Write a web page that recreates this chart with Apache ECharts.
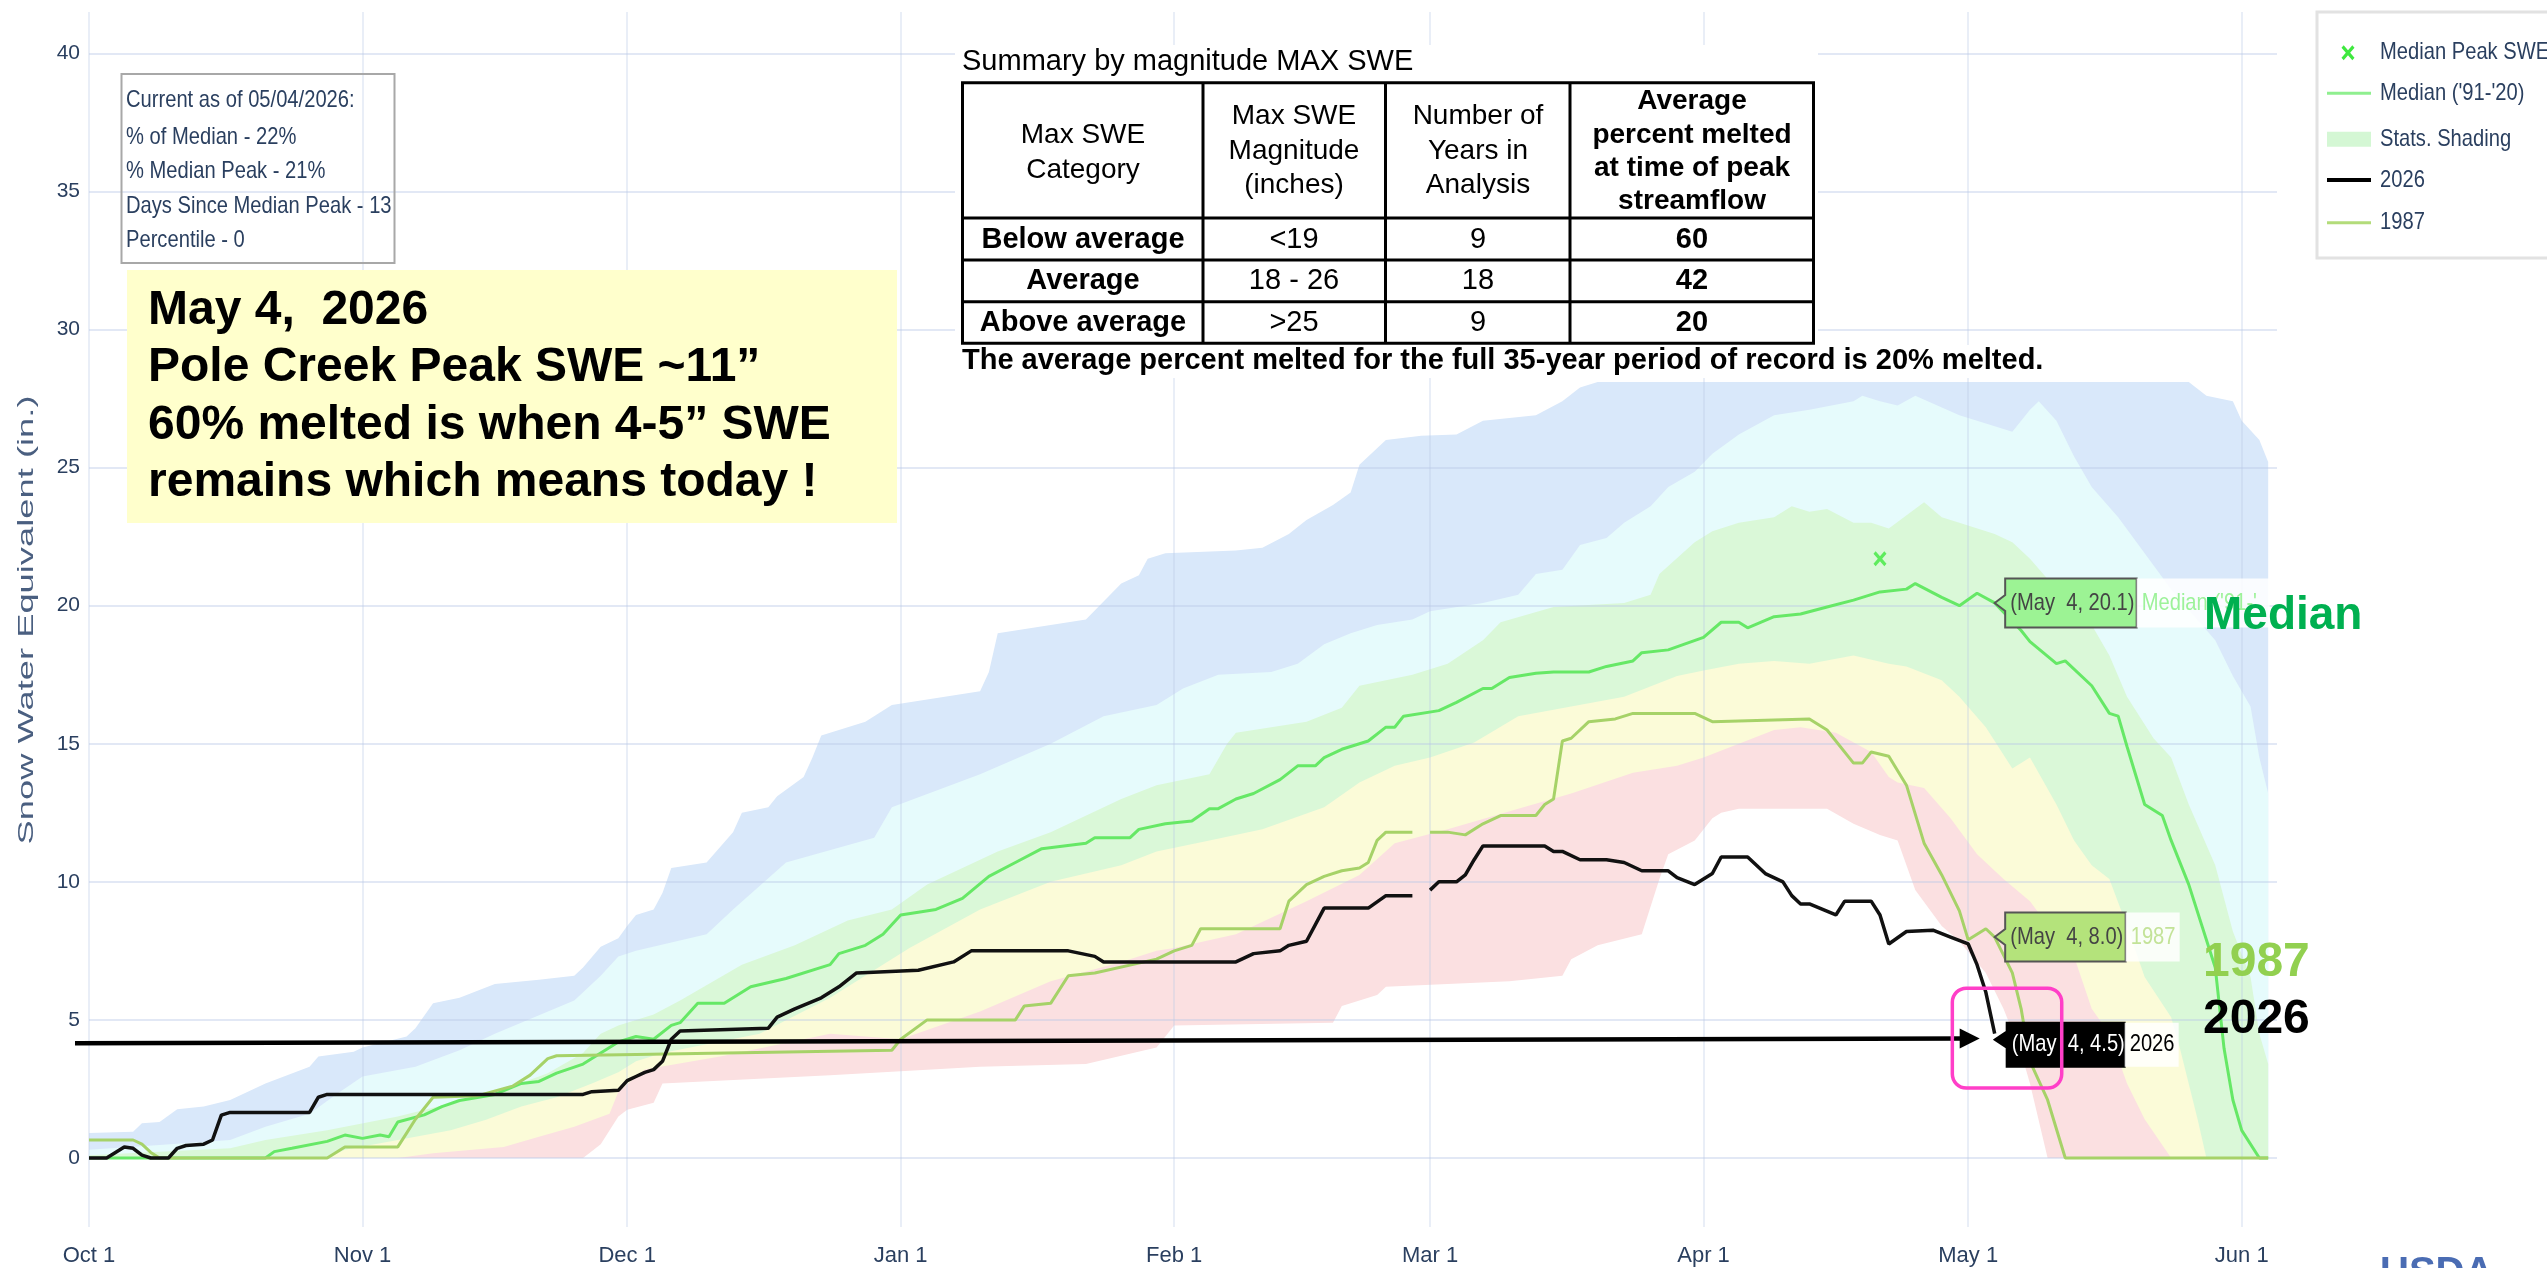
<!DOCTYPE html>
<html><head><meta charset="utf-8">
<script src="https://cdn.jsdelivr.net/npm/echarts@6/dist/echarts.min.js"></script>
<style>html,body{margin:0;padding:0;background:#fff;}#chart{width:2547px;height:1268px;}</style>
</head><body><div id="chart"></div>
<script>
// ---------------- DATA (day 0 = Oct 1, leap-year calendar) ----------------
const monthTickDays = [0, 31, 61, 92, 123, 152, 183, 213, 244];
const monthTickLabels = ['Oct 1', 'Nov 1', 'Dec 1', 'Jan 1', 'Feb 1', 'Mar 1', 'Apr 1', 'May 1', 'Jun 1'];
const yTickValues = [0, 5, 10, 15, 20, 25, 30, 35, 40];

const swe2026 = [[0,0],[2,0],[3,0.2],[4,0.4],[5,0.35],[6,0.1],[7,0],[9,0],[10,0.35],[11,0.45],[13,0.5],[14,0.65],[15,1.55],[16,1.65],[25,1.65],[26,2.2],[27,2.3],[56,2.3],[57,2.4],[60,2.45],[61,2.8],[62,2.95],[63,3.1],[64,3.2],[65,3.5],[66,4.3],[67,4.6],[77,4.7],[78,5.1],[80,5.4],[83,5.8],[85,6.2],[87,6.7],[94,6.8],[98,7.1],[100,7.5],[111,7.5],[114,7.3],[115,7.1],[130,7.1],[132,7.4],[135,7.5],[136,7.7],[138,7.85],[140,9.05],[145,9.05],[147,9.5],[150,9.5],[151,null],[152,9.7],[153,10.0],[155,10.0],[156,10.25],[157,10.8],[158,11.3],[165,11.3],[166,11.1],[167,11.1],[169,10.8],[172,10.8],[174,10.7],[176,10.4],[179,10.4],[180,10.15],[182,9.9],[183,10.1],[184,10.3],[185,10.9],[188,10.9],[190,10.3],[192,10.0],[193,9.5],[194,9.2],[195,9.2],[198,8.8],[199,9.3],[202,9.3],[203,8.8],[204,7.75],[206,8.2],[209,8.25],[211,8.0],[213,7.75],[214,7.0],[215,6.0],[216,4.5]];

const medianSWE = [[0,0],[20,0],[21,0.23],[23,0.35],[27,0.6],[29,0.83],[31,0.71],[33,0.83],[34,0.77],[35,1.3],[38,1.56],[40,1.86],[42,2.08],[46,2.3],[49,2.7],[51,2.77],[53,3.07],[56,3.4],[58,3.8],[60,4.2],[62,4.4],[64,4.3],[66,4.8],[67,4.9],[69,5.6],[72,5.6],[75,6.2],[79,6.5],[84,7.0],[85,7.4],[88,7.7],[90,8.1],[92,8.8],[96,9.0],[99,9.4],[102,10.2],[105,10.7],[108,11.2],[113,11.4],[114,11.6],[118,11.6],[119,11.9],[122,12.1],[125,12.2],[127,12.65],[128,12.65],[130,13.0],[132,13.2],[135,13.7],[137,14.2],[139,14.2],[140,14.5],[142,14.8],[145,15.1],[147,15.6],[148,15.6],[149,16.0],[153,16.2],[155,16.5],[158,17.0],[159,17.0],[161,17.4],[164,17.55],[166,17.6],[170,17.6],[172,17.8],[175,18.0],[176,18.3],[179,18.4],[183,18.85],[185,19.4],[187,19.4],[188,19.2],[191,19.6],[194,19.7],[197,19.95],[200,20.2],[203,20.5],[206,20.6],[207,20.8],[210,20.3],[212,20.0],[214,20.45],[216,20.1],[219,19.1],[220,18.7],[223,17.9],[224,18.0],[227,17.1],[229,16.1],[230,16.0],[231,14.9],[233,12.8],[235,12.4],[236,11.5],[238,9.9],[241,6.9],[242,3.96],[243,2.1],[244,1.0],[246,0],[247,0]];

const swe1987 = [[0,0.65],[5,0.65],[6,0.5],[7,0.2],[8,0],[27,0],[28,0.2],[29,0.4],[35,0.4],[36,0.9],[37,1.4],[38,1.8],[39,2.2],[44,2.25],[48,2.6],[50,3.0],[52,3.6],[53,3.7],[62,3.75],[91,3.9],[92,4.3],[95,5.0],[105,5.0],[106,5.5],[109,5.6],[111,6.6],[114,6.7],[121,7.2],[123,7.5],[125,7.7],[126,8.3],[135,8.3],[136,9.3],[138,9.9],[140,10.2],[142,10.4],[144,10.5],[145,10.7],[146,11.5],[147,11.8],[150,11.8],[151,null],[152,11.8],[154,11.8],[156,11.7],[158,12.1],[160,12.4],[164,12.4],[165,12.8],[166,13.0],[167,15.1],[168,15.2],[170,15.8],[173,15.9],[175,16.1],[182,16.1],[184,15.8],[195,15.9],[197,15.5],[200,14.3],[201,14.3],[202,14.7],[204,14.55],[206,13.5],[208,11.4],[210,10.25],[212,8.95],[213,7.9],[215,8.3],[216,8.0],[218,6.7],[219,5.4],[220,3.5],[222,2.1],[224,0],[247,0]];

const medianPeak = [[203, 21.7]];

const statsMax = [[0,0.9],[5,0.95],[6,1.26],[8,1.3],[10,1.76],[13,1.86],[16,2.1],[20,2.7],[25,3.3],[26,3.67],[30,3.85],[31,4.0],[36,4.4],[37,4.7],[39,5.6],[42,5.8],[46,6.3],[51,6.45],[55,6.6],[56,6.9],[58,7.65],[60,7.96],[61,8.4],[62,8.8],[64,9.0],[65,9.6],[66,10.5],[70,10.7],[73,11.8],[74,12.5],[77,12.7],[78,13.1],[81,13.8],[82,14.5],[83,15.3],[88,15.8],[91,16.4],[101,16.9],[102,17.6],[103,19.0],[113,19.5],[117,20.8],[119,21.1],[120,21.7],[122,21.9],[130,22.0],[133,22.1],[136,22.6],[138,23.1],[141,23.65],[143,24.1],[144,25.1],[147,26.0],[151,26.15],[155,26.2],[158,26.7],[164,26.9],[167,27.4],[169,27.9],[171,28.1],[238,28.1],[240,27.6],[243,27.4],[244,26.7],[246,26.0],[247,25.2]];
const statsP90 = [[0,0.3],[8,0.47],[16,0.65],[20,1.13],[25,1.6],[28,2.3],[31,2.95],[37,3.3],[42,3.9],[46,4.5],[55,5.7],[58,6.6],[60,7.3],[62,7.5],[70,8.1],[73,9.0],[79,10.7],[89,11.6],[91,12.7],[101,13.9],[109,15.0],[115,16.0],[121,16.4],[124,17.0],[128,17.5],[134,17.6],[137,17.9],[140,18.6],[143,19.0],[146,19.3],[150,19.5],[152,19.8],[158,20.1],[162,20.4],[164,21.15],[167,21.3],[169,22.2],[172,22.45],[174,23.0],[177,23.6],[179,24.3],[182,24.85],[184,25.5],[187,26.2],[191,26.9],[195,27.1],[200,27.4],[201,27.6],[203,27.4],[205,27.25],[207,27.6],[212,26.9],[218,26.3],[220,27.1],[221,27.4],[223,26.7],[225,25.4],[227,24.3],[230,23.2],[233,21.9],[236,20.6],[238,19.85],[241,18.75],[243,17.45],[245,16.35],[246,14.5],[247,13.2]];
const statsP70 = [[0,0.1],[16,0.35],[20,0.65],[27,1.0],[35,1.5],[40,1.9],[44,2.16],[48,2.6],[52,3.07],[56,3.8],[58,4.5],[60,4.8],[62,5.0],[64,5.2],[67,5.7],[74,7.0],[80,7.7],[86,8.6],[91,9.0],[95,9.9],[103,11.1],[109,11.8],[117,13.0],[121,13.5],[127,13.9],[129,15.0],[130,15.4],[138,15.8],[142,16.3],[144,17.1],[150,17.5],[154,17.9],[158,18.75],[160,19.4],[166,19.95],[174,20.1],[177,20.4],[178,21.15],[182,22.3],[184,22.7],[187,23.0],[191,23.2],[193,23.6],[195,23.4],[197,23.5],[200,23.0],[202,23.0],[204,22.8],[208,23.75],[210,23.2],[212,23.0],[216,22.6],[218,22.3],[220,21.7],[223,20.6],[226,19.85],[229,18.2],[231,16.7],[234,15.2],[236,14.5],[238,12.8],[241,10.6],[243,8.2],[245,6.55],[246,4.5],[247,3.4]];
const statsP30 = [[0,0],[27,0],[29,0.3],[35,0.65],[41,1.0],[45,1.38],[49,1.86],[53,2.2],[57,2.7],[60,3.1],[62,3.5],[65,3.8],[76,4.5],[84,5.8],[93,7.6],[101,9.0],[109,10.0],[117,10.6],[121,11.1],[127,11.5],[133,11.9],[140,12.7],[144,13.6],[148,14.2],[152,14.5],[157,15.05],[162,16.0],[168,16.35],[174,16.7],[180,17.45],[183,17.65],[187,17.9],[191,18.0],[195,17.9],[200,18.2],[204,17.9],[206,17.8],[210,17.3],[212,16.7],[215,15.6],[218,14.1],[220,14.5],[223,12.8],[225,11.5],[227,10.6],[229,10.1],[231,8.4],[233,6.55],[236,5.1],[237,3.96],[239,1.4],[240,0],[247,0]];
const statsP10 = [[0,0],[35,0],[39,0.17],[47,0.4],[51,0.77],[55,1.13],[59,1.6],[60,2.4],[63,3.2],[72,3.7],[84,4.5],[92,4.3],[101,5.3],[109,6.4],[117,7.1],[121,7.5],[123,7.6],[130,8.1],[138,9.3],[144,10.25],[148,11.4],[154,11.9],[162,12.65],[168,13.2],[175,13.95],[180,14.2],[183,14.5],[187,15.0],[191,15.5],[194,15.6],[198,15.4],[202,14.7],[204,13.8],[205,13.6],[208,13.4],[211,12.3],[214,11.0],[217,10.1],[220,9.3],[223,8.0],[225,7.3],[227,5.4],[229,4.5],[231,2.7],[233,1.4],[236,0],[247,0]];
const statsMin = [[0,0],[56,0],[58,0.5],[60,1.5],[61,1.75],[64,2.0],[65,2.7],[84,3.0],[101,3.3],[113,3.4],[121,4.0],[123,4.8],[141,4.9],[142,5.5],[146,5.9],[147,6.2],[161,6.4],[167,6.6],[168,7.2],[171,7.7],[176,8.1],[178,10.1],[179,11.0],[182,11.5],[184,12.3],[185,12.5],[187,12.65],[197,12.65],[200,12.1],[203,11.7],[205,11.5],[207,9.7],[210,8.4],[212,7.85],[215,6.7],[217,5.4],[219,3.8],[220,2.7],[222,0],[247,0]];

const currentDay = 216;            // May 4
const currentDayLabel = 'May  4';
const infoLines = ['Current as of 05/04/2026:', '% of Median - 22%', '% Median Peak - 21%', 'Days Since Median Peak - 13', 'Percentile - 0'];
const noteLines = ['May 4,  2026', 'Pole Creek Peak SWE ~11\u201d', '60% melted is when 4-5\u201d SWE', 'remains which means today !'];
const tableTitle = 'Summary by magnitude MAX SWE';
const tableHeader = [['Max SWE', 'Category'], ['Max SWE', 'Magnitude', '(inches)'], ['Number of', 'Years in', 'Analysis'], ['Average', 'percent melted', 'at time of peak', 'streamflow']];
const tableRows = [['Below average', '<19', '9', '60'], ['Average', '18 - 26', '18', '42'], ['Above average', '>25', '9', '20']];
const tableFooter = 'The average percent melted for the full 35-year period of record is 20% melted.';
const legendNames = ['Median Peak SWE', "Median ('91-'20)", 'Stats. Shading', '2026', '1987'];
const arrowLevel = [4.15, 4.33];        // SWE at left / right end of the drawn arrow
const arrowTipDay = 214.3;
const highlightBox = [[211.2, 6.15], [223.6, 2.53]];

// ---------------- FONTS ----------------
const SANS = '"Liberation Sans", Arial, sans-serif';
const NS = 24, NX = 0.84;          // "narrow" look: 24px squeezed horizontally
const TXT = '#2a3f5f';
const GRIDC = 'rgba(185,200,232,0.42)';

// ---------------- CHART ----------------
const chart = echarts.init(document.getElementById('chart'));
function band(name, data, color) {
  return { type: 'line', name, data, symbol: 'none', showSymbol: false, silent: true,
    lineStyle: { width: 0 }, areaStyle: { color, opacity: 1 }, z: 2 };
}
const xPathPts = [[2,0],[6,4],[10,0],[12,2],[8,6],[12,10],[10,12],[6,8],[2,12],[0,10],[4,6],[0,2]];
const xPath = 'path://M' + xPathPts.map(p => p.join(',')).join(' L') + ' Z';

chart.setOption({
  animation: false,
  backgroundColor: '#ffffff',
  grid: { left: 89, right: 270, top: 12, bottom: 41 },
  xAxis: {
    type: 'value', min: 0, max: 248, z: 3,
    axisLine: { show: false },
    axisTick: { show: false, customValues: monthTickDays },
    axisLabel: { customValues: monthTickDays, formatter: v => monthTickLabels[monthTickDays.indexOf(v)],
      color: TXT, fontFamily: SANS, fontSize: 22, margin: 18 },
    splitLine: { show: true, lineStyle: { color: GRIDC, width: 1.5 } }
  },
  yAxis: {
    type: 'value', min: -2.5, max: 41.5, z: 3,
    axisLine: { show: false },
    axisTick: { show: false, customValues: yTickValues },
    axisLabel: { customValues: yTickValues, color: TXT, fontFamily: SANS, fontSize: 21, margin: 9 },
    splitLine: { show: true, lineStyle: { color: GRIDC, width: 2 } }
  },
  series: [
    band('Max', statsMax, '#d9e8fa'),
    band('90%', statsP90, '#e6fbfc'),
    band('Stats. Shading', statsP70, '#daf8d8'),
    band('30%', statsP30, '#fbfbd8'),
    band('10%', statsP10, '#fbe0e1'),
    band('Min', statsMin, '#ffffff'),
    { type: 'line', name: "Median ('91-'20)", data: medianSWE, symbol: 'none', z: 4,
      lineStyle: { color: '#66e866', width: 3 } },
    { type: 'line', name: '1987', data: swe1987, symbol: 'none', z: 4, connectNulls: false,
      lineStyle: { color: '#a6d268', width: 3 } },
    { type: 'line', name: '2026', data: swe2026, symbol: 'none', z: 4, connectNulls: false,
      lineStyle: { color: '#111111', width: 3.5 } },
    { type: 'scatter', name: 'Median Peak SWE', data: medianPeak, symbol: xPath, symbolSize: [13, 15], z: 5,
      itemStyle: { color: '#3fe83f' } }
  ]
});

// ---------------- ANNOTATIONS ----------------
const P = (x, y) => chart.convertToPixel({ gridIndex: 0 }, [x, y]);
const valueAt = (arr, d) => { const p = arr.find(q => q[0] === d); return p ? p[1] : null; };
const G = [];
// narrow text (squeezed Liberation Sans)
const N = (text, x, y, style, z) => ({ type: 'text', z: z || 65, x, y, scaleX: NX, style: Object.assign({ text, fill: TXT,
  font: NS + 'px ' + SANS, align: 'left', textAlign: 'left', verticalAlign: 'middle', textVerticalAlign: 'middle' }, style || {}) });
// regular text
const T = (text, x, y, style, z, el) => Object.assign({ type: 'text', z: z || 65, x, y, style: Object.assign({ text, fill: '#000',
  font: '29px ' + SANS, align: 'left', textAlign: 'left', verticalAlign: 'middle', textVerticalAlign: 'middle' }, style || {}) }, el || {});

// y-axis title (stretched like the original)
(function () {
  const title = 'Snow Water Equivalent (in.)';
  const c = document.createElement('canvas').getContext('2d');
  c.font = '22px ' + SANS; const w = c.measureText(title).width;
  G.push(T(title, 27, 620, { font: '22px ' + SANS, fill: '#4a5f80', align: 'center', textAlign: 'center' }, 65,
    { rotation: Math.PI / 2, scaleX: 449 / w }));
})();

// info box
G.push({ type: 'rect', z: 55, shape: { x: 121.5, y: 74, width: 273, height: 189 }, style: { fill: 'rgba(255,255,255,0)', stroke: '#a8a8a8', lineWidth: 2 } });
const infoY = [100.7, 137, 171.7, 206.7, 240.5];
infoLines.forEach((s, i) => G.push(N(s, 126, infoY[i])));

// yellow note
G.push({ type: 'rect', z: 55, shape: { x: 127, y: 270, width: 770, height: 253 }, style: { fill: '#ffffcc' } });
G.push(T(noteLines.join('\n'), 148, 282, { font: 'bold 48px ' + SANS, lineHeight: 57.5, verticalAlign: 'top', textVerticalAlign: 'top' }));

// table
G.push({ type: 'rect', z: 54, shape: { x: 955, y: 45, width: 863, height: 300 }, style: { fill: '#fff' } });
G.push({ type: 'rect', z: 54, shape: { x: 955, y: 345, width: 1110, height: 33 }, style: { fill: '#fff' } });
G.push(T(tableTitle, 962, 62));
G.push({ type: 'rect', z: 56, shape: { x: 962.5, y: 82.7, width: 851, height: 260.6 }, style: { fill: 'none', stroke: '#000', lineWidth: 3 } });
[1203, 1385.5, 1570].forEach(x => G.push({ type: 'line', z: 56, shape: { x1: x, y1: 82.7, x2: x, y2: 343.3 }, style: { stroke: '#000', lineWidth: 3 } }));
[218, 260, 301.7].forEach(y => G.push({ type: 'line', z: 56, shape: { x1: 962.5, y1: y, x2: 1813.6, y2: y }, style: { stroke: '#000', lineWidth: 3 } }));
const colC = [1083, 1294, 1478, 1692];
const headY = [[135, 170], [116.7, 151.7, 185], [116.7, 151.7, 185], [101.7, 135, 168.3, 201.7]];
tableHeader.forEach((lines, c) => lines.forEach((s, i) => G.push(T(s, colC[c], headY[c][i], {
  font: (c === 3 ? 'bold ' : '') + '28px ' + SANS, align: 'center', textAlign: 'center' }))));
const rowY = [240, 280.7, 322.7];
tableRows.forEach((row, r) => row.forEach((s, c) => G.push(T(s, colC[c], rowY[r], {
  font: (c === 0 || c === 3 ? 'bold ' : '') + '29px ' + SANS, align: 'center', textAlign: 'center' }))));
G.push(T(tableFooter, 962, 361, { font: 'bold 29px ' + SANS }));

// legend
G.push({ type: 'rect', z: 55, shape: { x: 2317, y: 12, width: 260, height: 246 }, style: { fill: '#fff', stroke: '#e2e2e2', lineWidth: 3 } });
const legY = [52.7, 93.3, 139, 180, 222.7];
G.push({ type: 'polygon', z: 60, shape: { points: xPathPts.map(p => [2341.5 + p[0] * 13 / 12, 45.2 + p[1] * 15 / 12]) }, style: { fill: '#3fe83f' } });
G.push({ type: 'line', z: 60, shape: { x1: 2327, y1: legY[1], x2: 2371, y2: legY[1] }, style: { stroke: '#8fef8f', lineWidth: 3 } });
G.push({ type: 'rect', z: 60, shape: { x: 2327, y: 131.7, width: 44, height: 15 }, style: { fill: '#d4f7d4' } });
G.push({ type: 'line', z: 60, shape: { x1: 2327, y1: legY[3], x2: 2371, y2: legY[3] }, style: { stroke: '#000', lineWidth: 4 } });
G.push({ type: 'line', z: 60, shape: { x1: 2327, y1: legY[4], x2: 2371, y2: legY[4] }, style: { stroke: '#b3dc7a', lineWidth: 3 } });
legendNames.forEach((s, i) => G.push(N(s, 2380, legY[i])));

// hover-style labels at May 4
function hoverLabel(arr, fill, stroke, textColor, name, nameColor, opts) {
  const v = valueAt(arr, currentDay);
  const [px, py] = P(currentDay, v);
  const L = px + opts.l, R = px + opts.r, top = py + opts.t, bot = py + opts.b;
  G.push({ type: 'polygon', z: 62, shape: { points: [[px, py + opts.tip], [L, py + opts.tip - 8], [L, top], [R, top], [R, bot], [L, bot], [L, py + opts.tip + 8]] },
    style: { fill, stroke, lineWidth: 2 } });
  G.push(N('(' + currentDayLabel + ', ' + v.toFixed(1) + ')', L + 5, (top + bot) / 2, { fill: textColor }, 66));
  G.push({ type: 'rect', z: 62, shape: { x: R, y: top, width: opts.nw, height: bot - top }, style: { fill: 'rgba(255,255,255,0.85)' } });
  const nameStyle = { fill: nameColor };
  if (opts.clip) Object.assign(nameStyle, { width: (opts.nw - 7) / NX, overflow: 'truncate', ellipsis: '' });
  G.push(N(name, R + 5, (top + bot) / 2, nameStyle, 66));
}
hoverLabel(medianSWE, '#9cf394', '#555', '#444', "Median ('91-'20)", '#9df29a', { l: 10.5, r: 142, t: -24.5, b: 24.5, tip: 0, nw: 133, clip: true });
hoverLabel(swe1987, '#b4e37b', '#555', '#444', '1987', '#c3e398', { l: 10.5, r: 131, t: -24.5, b: 24.5, tip: 0, nw: 54 });
hoverLabel(swe2026, '#000', '#000', '#fff', '2026', '#000', { l: 12, r: 130, t: -11, b: 33, tip: 6, nw: 54 });

// big labels
G.push(T('Median', 2204, 616, { font: 'bold 46px ' + SANS, fill: '#00b050' }, 70));
G.push(T('1987', 2203, 962.5, { font: 'bold 48px ' + SANS, fill: '#92d050' }, 70));
G.push(T('2026', 2203, 1020, { font: 'bold 48px ' + SANS, fill: '#000' }, 70));

// arrow
(function () {
  const yL = P(0, arrowLevel[0])[1];
  const [tx, ty] = P(arrowTipDay, arrowLevel[1]);
  G.push({ type: 'line', z: 63, shape: { x1: 75, y1: yL, x2: tx - 15, y2: ty }, style: { stroke: '#000', lineWidth: 4.5 } });
  G.push({ type: 'polygon', z: 63, shape: { points: [[tx, ty], [tx - 20, ty - 10], [tx - 20, ty + 10]] }, style: { fill: '#000' } });
})();

// pink highlight
(function () {
  const a = P(highlightBox[0][0], highlightBox[0][1]);
  const b = P(highlightBox[1][0], highlightBox[1][1]);
  G.push({ type: 'rect', z: 72, shape: { x: a[0], y: a[1], width: b[0] - a[0], height: b[1] - a[1], r: 14 },
    style: { fill: 'none', stroke: '#ff3fc8', lineWidth: 3.5 } });
})();

// USDA (cut at bottom)
G.push(T('USDA', 2380, 1254, { font: 'bold 40px ' + SANS, fill: '#4a6cb3', verticalAlign: 'top', textVerticalAlign: 'top' }));

chart.setOption({ graphic: G });
</script></body></html>
